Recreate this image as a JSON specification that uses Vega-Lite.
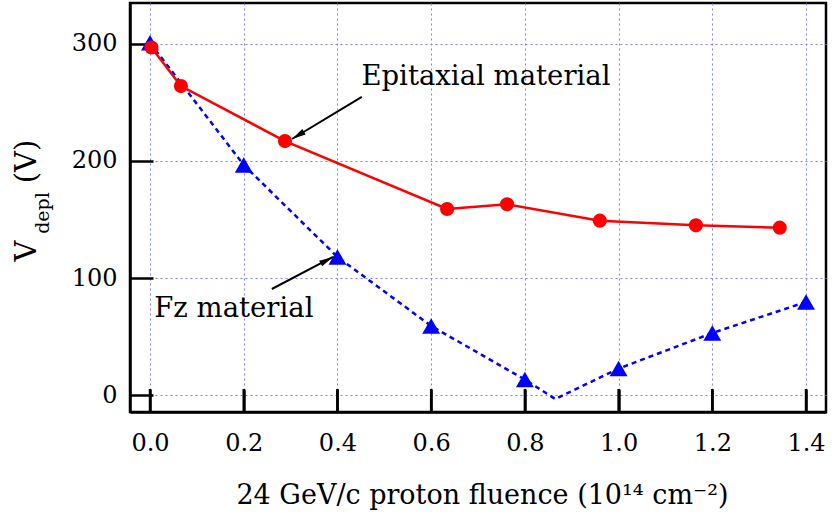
{
  "$schema": "https://vega.github.io/schema/vega-lite/v6.json",
  "width": 696,
  "height": 409,
  "autosize": {"type": "none"},
  "padding": {"left": 130, "top": 3, "right": 6, "bottom": 103},
  "background": "white",
  "config": {
    "font": "DejaVu Serif",
    "view": {"stroke": "black", "strokeWidth": 2.5}
  },
  "datasets": {
    "epi": [
      {"f": 0.003, "v": 297},
      {"f": 0.066, "v": 264},
      {"f": 0.288, "v": 217},
      {"f": 0.634, "v": 159},
      {"f": 0.762, "v": 163},
      {"f": 0.96, "v": 149},
      {"f": 1.165, "v": 145},
      {"f": 1.344, "v": 143}
    ],
    "fz": [
      {"f": 0.0, "v": 301, "kind": "measured"},
      {"f": 0.2, "v": 196.6, "kind": "measured"},
      {"f": 0.4, "v": 118, "kind": "measured"},
      {"f": 0.6, "v": 59, "kind": "measured"},
      {"f": 0.8, "v": 13.2, "kind": "measured"},
      {"f": 0.865, "v": -3.4, "kind": "vertex"},
      {"f": 1.0, "v": 22.6, "kind": "measured"},
      {"f": 1.2, "v": 53, "kind": "measured"},
      {"f": 1.4, "v": 79.5, "kind": "measured"}
    ],
    "arrows": [
      {"name": "epi", "f": 0.452, "v": 254.7, "f2": 0.303, "v2": 218.8},
      {"name": "fz", "f": 0.26, "v": 90.6, "f2": 0.3905, "v2": 118}
    ],
    "labels": [
      {"f": 0.717, "v": 265, "text": "Epitaxial material"},
      {"f": 0.179, "v": 66.7, "text": "Fz material"}
    ],
    "xticks": [{"f": 0}, {"f": 0.2}, {"f": 0.4}, {"f": 0.6}, {"f": 0.8}, {"f": 1.0}, {"f": 1.2}, {"f": 1.4}],
    "yticks": [{"v": 0}, {"v": 100}, {"v": 200}, {"v": 300}]
  },
  "encoding": {
    "x": {
      "field": "f",
      "type": "quantitative",
      "scale": {"domain": [-0.0427, 1.4426], "nice": false, "zero": false},
      "axis": {
        "values": [0, 0.2, 0.4, 0.6, 0.8, 1.0, 1.2, 1.4],
        "format": ".1f",
        "domain": true,
        "domainColor": "black",
        "domainWidth": 2.5,
        "ticks": true,
        "tickSize": -23,
        "tickColor": "black",
        "tickWidth": 2.5,
        "labelPadding": 42,
        "labelFont": "DejaVu Serif",
        "labelFontSize": 24,
        "labelColor": "black",
        "labelFlush": false,
        "labelOverlap": false,
        "grid": true,
        "gridColor": "#7f7fff",
        "gridDash": [2, 3],
        "gridWidth": 1,
        "gridOpacity": 1,
        "title": "24 GeV/c proton fluence (10¹⁴ cm⁻²)",
        "titleFont": "DejaVu Serif",
        "titleFontWeight": "normal",
        "titleColor": "black",
        "titleFontSize": 27,
        "titleX": 352,
        "titleY": 91,
        "titleAlign": "center",
        "titleBaseline": "alphabetic"
      }
    }
  },
  "layer": [
    {
      "data": {"name": "fz"},
      "mark": {"type": "line", "color": "#0000ff", "strokeWidth": 2.5, "strokeDash": [5, 4]},
      "encoding": {
        "y": {
          "field": "v",
          "type": "quantitative",
          "scale": {"domain": [-14.5, 335], "nice": false, "zero": false},
          "axis": {
            "orient": "left",
            "values": [0, 100, 200, 300],
            "domain": true,
            "domainColor": "black",
            "domainWidth": 2.5,
            "ticks": true,
            "tickSize": -23,
            "tickColor": "black",
            "tickWidth": 2.5,
            "labelPadding": 36,
            "labelFont": "DejaVu Serif",
            "labelFontSize": 24,
            "labelColor": "black",
            "grid": true,
            "gridColor": "#7f7fff",
            "gridDash": [2, 3],
            "gridWidth": 1,
            "gridOpacity": 1,
            "title": "V",
            "titleFont": "DejaVu Serif",
            "titleFontWeight": "normal",
            "titleColor": "black",
            "titleFontSize": 29,
            "titleAngle": 270,
            "titleX": -95,
            "titleY": 247.5,
            "titleAlign": "center",
            "titleBaseline": "alphabetic"
          }
        }
      }
    },
    {
      "data": {"name": "xticks"},
      "mark": {"type": "rule", "color": "black", "strokeWidth": 2.5},
      "encoding": {
        "y": {"datum": -14.5, "type": "quantitative", "scale": {"domain": [-14.5, 335], "nice": false, "zero": false}, "axis": null},
        "y2": {"datum": 5.16}
      }
    },
    {
      "data": {"name": "yticks"},
      "mark": {"type": "rule", "color": "black", "strokeWidth": 2.5},
      "encoding": {
        "x": {"datum": -0.0427, "type": "quantitative", "scale": {"domain": [-0.0427, 1.4426], "nice": false, "zero": false}},
        "x2": {"datum": 0.0064},
        "y": {"field": "v", "type": "quantitative", "scale": {"domain": [-14.5, 335], "nice": false, "zero": false}, "axis": null}
      }
    },
    {
      "data": {"name": "fz"},
      "transform": [{"filter": "datum.kind === 'measured'"}],
      "mark": {"type": "point", "shape": "triangle-up", "filled": true, "size": 320, "color": "#0000ff", "opacity": 1},
      "encoding": {
        "y": {
          "field": "v",
          "type": "quantitative",
          "scale": {"domain": [-14.5, 335], "nice": false, "zero": false},
          "axis": {
            "orient": "left",
            "labels": false,
            "ticks": false,
            "domain": false,
            "grid": false,
            "title": "depl",
            "titleFont": "DejaVu Serif",
            "titleFontWeight": "normal",
            "titleColor": "black",
            "titleFontSize": 19,
            "titleAngle": 270,
            "titleX": -82,
            "titleY": 209.5,
            "titleAlign": "center",
            "titleBaseline": "alphabetic"
          }
        }
      }
    },
    {
      "data": {"name": "epi"},
      "mark": {"type": "line", "color": "#ff0000", "strokeWidth": 2.5},
      "encoding": {
        "y": {
          "field": "v",
          "type": "quantitative",
          "scale": {"domain": [-14.5, 335], "nice": false, "zero": false},
          "axis": {
            "orient": "left",
            "labels": false,
            "ticks": false,
            "domain": false,
            "grid": false,
            "title": "(V)",
            "titleFont": "DejaVu Serif",
            "titleFontWeight": "normal",
            "titleColor": "black",
            "titleFontSize": 29,
            "titleAngle": 270,
            "titleX": -95,
            "titleY": 158,
            "titleAlign": "center",
            "titleBaseline": "alphabetic"
          }
        }
      }
    },
    {
      "data": {"name": "epi"},
      "mark": {"type": "point", "shape": "circle", "filled": true, "size": 200, "color": "#ff0000", "opacity": 1},
      "encoding": {
        "y": {"field": "v", "type": "quantitative", "scale": {"domain": [-14.5, 335], "nice": false, "zero": false}, "axis": null}
      }
    },
    {
      "data": {"name": "arrows"},
      "mark": {"type": "rule", "color": "black", "strokeWidth": 2},
      "encoding": {
        "y": {"field": "v", "type": "quantitative", "scale": {"domain": [-14.5, 335], "nice": false, "zero": false}, "axis": null},
        "x2": {"field": "f2"},
        "y2": {"field": "v2"}
      }
    },
    {
      "data": {"name": "arrows"},
      "transform": [{"filter": "datum.name === 'epi'"}],
      "mark": {"type": "point", "shape": "M0,0L0.45,2L-0.45,2Z", "filled": true, "size": 196, "color": "black", "opacity": 1, "angle": 239},
      "encoding": {
        "x": {"field": "f2", "type": "quantitative", "scale": {"domain": [-0.0427, 1.4426], "nice": false, "zero": false}},
        "y": {"field": "v2", "type": "quantitative", "scale": {"domain": [-14.5, 335], "nice": false, "zero": false}, "axis": null}
      }
    },
    {
      "data": {"name": "arrows"},
      "transform": [{"filter": "datum.name === 'fz'"}],
      "mark": {"type": "point", "shape": "M0,0L0.45,2L-0.45,2Z", "filled": true, "size": 196, "color": "black", "opacity": 1, "angle": 62},
      "encoding": {
        "x": {"field": "f2", "type": "quantitative", "scale": {"domain": [-0.0427, 1.4426], "nice": false, "zero": false}},
        "y": {"field": "v2", "type": "quantitative", "scale": {"domain": [-14.5, 335], "nice": false, "zero": false}, "axis": null}
      }
    },
    {
      "data": {"name": "labels"},
      "mark": {"type": "text", "font": "DejaVu Serif", "fontSize": 27.5, "color": "black", "align": "center", "baseline": "alphabetic"},
      "encoding": {
        "y": {"field": "v", "type": "quantitative", "scale": {"domain": [-14.5, 335], "nice": false, "zero": false}, "axis": null},
        "text": {"field": "text"}
      }
    }
  ],
  "resolve": {"axis": {"y": "independent"}}
}
